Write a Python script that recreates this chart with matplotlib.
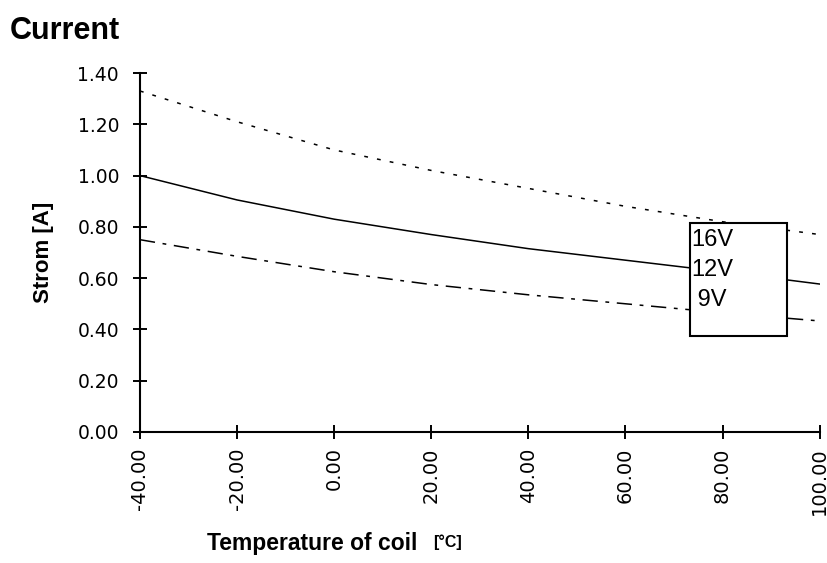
import matplotlib.pyplot as plt
from matplotlib.patches import Rectangle

# values
temps = [-40, -20, 0, 20, 40, 60, 80, 100]
i_16v = [1.33, 1.21, 1.10, 1.02, 0.95, 0.88, 0.82, 0.77]
i_12v = [1.00, 0.905, 0.83, 0.77, 0.715, 0.67, 0.625, 0.577]
i_9v = [0.75, 0.685, 0.625, 0.575, 0.535, 0.50, 0.465, 0.433]
labels = ['16V', '12V', ' 9V']
x_ticks = [-40, -20, 0, 20, 40, 60, 80, 100]
y_ticks = [0.0, 0.2, 0.4, 0.6, 0.8, 1.0, 1.2, 1.4]

plt.rcParams['font.family'] = ['Liberation Sans', 'DejaVu Sans']

fig = plt.figure(figsize=(8.28, 5.63), dpi=100)
ax = fig.add_axes([0.169, 0.2327, 0.821, 0.6376])

ax.plot(temps, i_16v, color='black', lw=1.1, linestyle=(0, (2.5, 6)))
ax.plot(temps, i_12v, color='black', lw=1.1, linestyle='-')
ax.plot(temps, i_9v, color='black', lw=1.1, linestyle=(0, (10, 5, 2.5, 5)))

ax.set_xlim(-40, 100)
ax.set_ylim(0, 1.4)
ax.set_xticks(x_ticks)
ax.set_yticks(y_ticks)
# tick labels in the original are a wide screen font, DejaVu is closer
ax.set_xticklabels([f'{v:.2f}' for v in x_ticks], rotation=90, fontsize=14,
                   family='DejaVu Sans')
ax.set_yticklabels([f'{v:.2f}' for v in y_ticks], fontsize=13.5, family='DejaVu Sans')
ax.tick_params(axis='both', direction='inout', length=10, width=1.4, colors='black')
ax.tick_params(axis='x', pad=6)
ax.tick_params(axis='y', pad=10)
for side in ['top', 'right']:
    ax.spines[side].set_visible(False)
for side in ['left', 'bottom']:
    ax.spines[side].set_linewidth(1.5)

# legend box (text only, no handles)
ax.add_patch(Rectangle((0.809, 0.267), 0.143, 0.315, transform=ax.transAxes,
                       fill=True, facecolor='white', edgecolor='black', lw=1.5, zorder=5))
for k, lab in enumerate(labels):
    ax.text(0.811, 0.535 - k * 0.084, lab, transform=ax.transAxes, fontsize=17,
            va='center', ha='left', zorder=6)

fig.text(0.012, 0.945, 'Current', fontsize=22, fontweight='bold', va='center', ha='left')
fig.text(0.052, 0.552, 'Strom [A]', fontsize=16, fontweight='bold', rotation=90,
         va='center', ha='center')
fig.text(0.25, 0.035, 'Temperature of coil', fontsize=16.5, fontweight='bold',
         va='center', ha='left')
fig.text(0.523, 0.037, '[°C]', fontsize=11.5, fontweight='bold', va='center', ha='left')

fig.savefig('out.png', dpi=100)
